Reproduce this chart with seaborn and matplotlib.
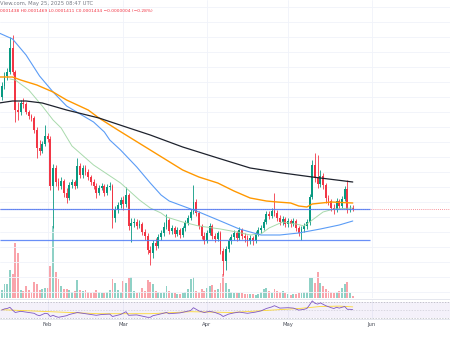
import numpy as np
import pandas as pd
import matplotlib
matplotlib.use("Agg")
import matplotlib.pyplot as plt
import matplotlib.dates as mdates
import seaborn as sns

sns.set_theme(style="white")
plt.rcParams["font.family"] = ["DejaVu Sans"]

# ---------------------------------------------------------------- data
PRICE_UNIT = 1e-7          # prices below are given in units of 0.0000001
first_day = "2025-01-15"   # daily candles from here on

opens = [2554, 2664, 2764, 2804, 3044, 2804, 2424, 2404, 2494, 2484,
         2404, 2364, 2344, 2224, 2044, 2014, 2084, 2164, 2134, 1664,
         1844, 1704, 1664, 1714, 1594, 1544, 1674, 1704, 1664, 1864,
         1774, 1844, 1804, 1754, 1704, 1664, 1594, 1644, 1664, 1594,
         1654, 1664, 1344, 1424, 1474, 1524, 1484, 1574, 1264, 1294,
         1304, 1264, 1284, 1204, 1164, 1024, 994, 1094, 1064, 1154,
         1194, 1254, 1324, 1214, 1244, 1184, 1224, 1174, 1244, 1294,
         1344, 1404, 1504, 1394, 1264, 1164, 1114, 1194, 1264, 1164,
         1134, 1194, 1014, 914, 1034, 1114, 1154, 1194, 1144, 1224,
         1164, 1144, 1114, 1144, 1114, 1184, 1224, 1244, 1304, 1384,
         1364, 1414, 1394, 1344, 1304, 1334, 1284, 1314, 1284, 1314,
         1244, 1194, 1234, 1264, 1304, 1554, 1874, 1744, 1684, 1764,
         1674, 1544, 1514, 1444, 1424, 1514, 1464, 1534, 1634, 1424,
         1438]
highs = [2704, 2804, 2844, 3154, 3174, 2824, 2504, 2524, 2544, 2504,
         2424, 2384, 2364, 2254, 2124, 2114, 2274, 2194, 2164, 1884,
         1874, 1744, 1754, 1734, 1644, 1704, 1734, 1724, 1944, 1894,
         1874, 1874, 1834, 1774, 1734, 1694, 1674, 1694, 1684, 1684,
         1704, 1684, 1464, 1504, 1554, 1564, 1654, 1594, 1344, 1344,
         1334, 1324, 1304, 1234, 1194, 1064, 1124, 1144, 1184, 1224,
         1304, 1384, 1344, 1274, 1264, 1254, 1244, 1264, 1324, 1374,
         1434, 1674, 1534, 1414, 1284, 1204, 1224, 1294, 1284, 1194,
         1214, 1214, 1044, 1064, 1144, 1184, 1224, 1214, 1254, 1244,
         1194, 1174, 1174, 1164, 1214, 1254, 1274, 1334, 1414, 1414,
         1444, 1594, 1424, 1374, 1364, 1354, 1344, 1334, 1344, 1334,
         1264, 1264, 1294, 1334, 1584, 1924, 1994, 1974, 1824, 1794,
         1694, 1574, 1534, 1484, 1544, 1534, 1564, 1664, 1724, 1474,
         1469]
lows = [2524, 2634, 2724, 2784, 2774, 2304, 2324, 2374, 2444, 2384,
        2334, 2314, 2194, 1944, 1974, 1994, 2064, 2104, 1624, 1244,
        1664, 1624, 1634, 1554, 1494, 1524, 1644, 1634, 1644, 1744,
        1744, 1774, 1724, 1674, 1634, 1544, 1574, 1624, 1564, 1574,
        1624, 1244, 1304, 1394, 1444, 1424, 1454, 1224, 1104, 1254,
        1234, 1244, 1174, 1124, 984, 874, 944, 1024, 1044, 1124,
        1164, 1234, 1184, 1184, 1154, 1164, 1144, 1154, 1214, 1274,
        1324, 1384, 1364, 1234, 1134, 1084, 1094, 1174, 1134, 1104,
        1114, 984, 774, 824, 1004, 1084, 1124, 1114, 1124, 1134,
        1104, 1064, 1084, 1074, 1094, 1164, 1194, 1224, 1284, 1334,
        1344, 1364, 1314, 1274, 1274, 1254, 1254, 1254, 1264, 1214,
        1164, 1124, 1204, 1234, 1274, 1534, 1704, 1644, 1654, 1634,
        1494, 1474, 1414, 1384, 1404, 1434, 1444, 1514, 1394, 1404,
        1411]
closes = [2664, 2764, 2804, 3044, 2804, 2424, 2404, 2494, 2484, 2404,
          2364, 2344, 2224, 2044, 2014, 2084, 2164, 2134, 1664, 1844,
          1704, 1664, 1714, 1594, 1544, 1674, 1704, 1664, 1864, 1774,
          1844, 1804, 1754, 1704, 1664, 1594, 1644, 1664, 1594, 1654,
          1664, 1344, 1424, 1474, 1524, 1484, 1574, 1264, 1294, 1304,
          1264, 1284, 1204, 1164, 1024, 994, 1094, 1064, 1154, 1194,
          1254, 1324, 1214, 1244, 1184, 1224, 1174, 1244, 1294, 1344,
          1404, 1504, 1394, 1264, 1164, 1114, 1194, 1264, 1164, 1134,
          1194, 1014, 914, 1034, 1114, 1154, 1194, 1144, 1224, 1164,
          1144, 1114, 1144, 1114, 1184, 1224, 1244, 1304, 1384, 1364,
          1414, 1394, 1344, 1304, 1334, 1284, 1314, 1284, 1314, 1244,
          1194, 1234, 1264, 1304, 1554, 1874, 1744, 1684, 1764, 1674,
          1544, 1514, 1444, 1424, 1514, 1464, 1534, 1634, 1424, 1438,
          1434]
volumes = [80, 140, 140, 280, 240, 550, 450, 80, 70, 120,
           80, 60, 160, 140, 80, 90, 100, 100, 320, 720,
           260, 190, 120, 90, 90, 80, 60, 70, 180, 80,
           70, 80, 60, 50, 60, 80, 60, 50, 50, 60,
           80, 190, 150, 80, 60, 170, 150, 200, 210, 70,
           50, 60, 100, 70, 180, 160, 140, 70, 60, 50,
           60, 120, 70, 50, 50, 40, 40, 50, 60, 90,
           190, 210, 70, 60, 90, 70, 100, 120, 130, 80,
           90, 150, 240, 150, 90, 60, 50, 50, 50, 50,
           40, 40, 40, 40, 30, 40, 60, 90, 100, 70,
           50, 90, 70, 60, 70, 50, 40, 30, 40, 40,
           50, 50, 60, 60, 200, 200, 150, 260, 150, 120,
           90, 70, 60, 50, 60, 70, 100, 140, 160, 50,
           20]

# moving averages (sampled points)
ma_fast_dates = ["2025-01-18", "2025-01-20", "2025-01-25", "2025-01-30", "2025-02-03",
                 "2025-02-06", "2025-02-10", "2025-02-18", "2025-02-28", "2025-03-07",
                 "2025-03-11", "2025-03-15", "2025-03-17", "2025-03-23", "2025-03-29",
                 "2025-04-06", "2025-04-12", "2025-04-17", "2025-04-21", "2025-04-24",
                 "2025-04-29", "2025-05-04", "2025-05-07", "2025-05-10", "2025-05-14",
                 "2025-05-18", "2025-05-25"]
ma_fast = [2734, 2724, 2624, 2464, 2324, 2244, 2064, 1874, 1694, 1524,
           1444, 1394, 1354, 1304, 1264, 1234, 1204, 1174, 1184, 1244,
           1304, 1284, 1264, 1324, 1404, 1434, 1444]

ma_mid_dates = ["2025-01-14", "2025-01-19", "2025-01-24", "2025-01-29", "2025-02-03",
                "2025-02-08", "2025-02-13", "2025-02-18", "2025-02-22", "2025-02-24",
                "2025-02-28", "2025-03-06", "2025-03-11", "2025-03-15", "2025-03-18",
                "2025-03-23", "2025-03-29", "2025-04-06", "2025-04-13", "2025-04-21",
                "2025-04-28", "2025-05-05", "2025-05-13", "2025-05-20", "2025-05-25"]
ma_mid = [3194, 3134, 2974, 2764, 2604, 2464, 2384, 2304, 2204, 2124,
          2024, 1854, 1694, 1574, 1514, 1464, 1404, 1314, 1234, 1174,
          1174, 1194, 1234, 1274, 1314]

ma_long_dates = ["2025-01-14", "2025-01-19", "2025-01-22", "2025-01-28", "2025-02-03",
                 "2025-02-08", "2025-02-16", "2025-02-20", "2025-02-27", "2025-03-05",
                 "2025-03-11", "2025-03-17", "2025-03-23", "2025-03-29", "2025-04-05",
                 "2025-04-11", "2025-04-17", "2025-04-23", "2025-04-27", "2025-05-02",
                 "2025-05-05", "2025-05-08", "2025-05-10", "2025-05-17", "2025-05-25"]
ma_long = [2754, 2754, 2724, 2674, 2604, 2524, 2424, 2344, 2224, 2124,
           2024, 1924, 1824, 1754, 1694, 1614, 1544, 1514, 1504, 1494,
           1464, 1454, 1484, 1504, 1494]

ma_slow_dates = ["2025-01-14", "2025-01-19", "2025-01-24", "2025-01-30", "2025-02-08",
                 "2025-02-20", "2025-03-02", "2025-03-11", "2025-03-23", "2025-04-05",
                 "2025-04-17", "2025-04-29", "2025-05-10", "2025-05-25"]
ma_slow = [2494, 2514, 2514, 2494, 2424, 2344, 2254, 2174, 2054, 1944,
           1844, 1794, 1754, 1704]

# horizontal levels drawn on the chart
levels = [1434, 1124]
levels_end = "2025-05-31 12:00"

# RSI pane (day number counted from first_day)
rsi_day = [0, 1, 2, 3, 4, 5, 7, 9, 12, 13, 14, 16, 17, 18, 19, 20, 21, 24, 25, 28,
           31, 35, 37, 40, 41, 44, 46, 47, 50, 54, 55, 56, 58, 61, 62, 66, 70, 71, 73, 75,
           77, 79, 81, 82, 84, 86, 88, 91, 94, 96, 98, 100, 101, 103, 106, 108, 110, 112,
           113, 114, 115, 116, 117, 118, 120, 122, 123, 124, 125, 127, 128, 129, 130]
rsi_val = [49, 52, 53, 56, 49, 43, 46, 44, 41, 37, 35, 41, 40, 33, 36, 33, 31, 35, 38, 43,
           40, 36, 38, 39, 33, 38, 45, 36, 37, 31, 31, 35, 38, 43, 40, 42, 48, 55, 47, 43,
           46, 43, 38, 33, 39, 42, 44, 41, 44, 47, 53, 57, 60, 54, 55, 54, 49, 51,
           53, 62, 72, 66, 64, 67, 60, 55, 53, 56, 54, 58, 51, 51, 50]
rsi_ma_day = [0, 18, 36, 55, 70, 85, 100, 110, 118, 125, 130]
rsi_ma_val = [50, 45, 40, 40, 45, 43, 49, 53, 58, 59, 57]

month_starts = ["2025-02-01", "2025-03-01", "2025-04-01", "2025-05-01", "2025-06-01"]
month_labels = ["Feb", "Mar", "Apr", "May", "Jun"]

header_time = "View.com, May 25, 2025 08:47 UTC"
header_ohlc = "0001438 H0.0001469 L0.0001411 C0.0001434 \u22120.0000004 (\u22120.28%)"

# ---------------------------------------------------------------- style
UP = "#089981"
DOWN = "#f23645"
BG_GRID = "#f0f3fa"

fig = plt.figure(figsize=(4.5, 3.38), dpi=100)
fig.patch.set_facecolor("white")

W_PX, H_PX = 450, 338
main_bottom, rsi_bottom, rsi_top = 298, 319, 299
ax = fig.add_axes([0, 1 - main_bottom / H_PX, 1, main_bottom / H_PX])
axv = ax.twinx()
axr = fig.add_axes([0, 1 - rsi_bottom / H_PX, 1, (rsi_bottom - rsi_top) / H_PX], sharex=ax)

def to_num(seq):
    return mdates.date2num(pd.to_datetime(seq).to_pydatetime())

start = pd.Timestamp(first_day)
days = pd.date_range(start, periods=len(closes), freq="D")
xd = mdates.date2num(days.to_pydatetime())

o = np.array(opens) * PRICE_UNIT
h = np.array(highs) * PRICE_UNIT
l = np.array(lows) * PRICE_UNIT
c = np.array(closes) * PRICE_UNIT
up = c >= o
cols = np.where(up, UP, DOWN)

# volume, on its own scale at the foot of the price pane
vol_cols = [(8/255, 153/255, 129/255, 0.45) if u else (242/255, 54/255, 69/255, 0.45) for u in up]
axv.bar(xd, volumes, width=0.7, color=vol_cols, linewidth=0)
axv.set_ylim(0, 2980)
axv.axis("off")
ax.set_zorder(axv.get_zorder() + 1)
ax.patch.set_visible(False)

# candles
ax.vlines(xd, l, h, colors=cols, linewidth=0.6, zorder=3)
body_low = np.minimum(o, c)
body_h = np.maximum(np.abs(c - o), 8 * PRICE_UNIT)
ax.bar(xd, body_h, bottom=body_low, width=0.7, color=cols, linewidth=0, zorder=4)

# moving averages
for dts, vals, color, lw, alpha in [
    (ma_fast_dates, ma_fast, "#9fd6a3", 0.7, 0.9),
    (ma_mid_dates, ma_mid, "#5b9cf6", 0.8, 1.0),
    (ma_long_dates, ma_long, "#ff9800", 1.0, 1.0),
    (ma_slow_dates, ma_slow, "#1e222d", 0.9, 1.0),
]:
    sns.lineplot(x=to_num(dts), y=np.array(vals) * PRICE_UNIT, ax=ax, color=color,
                 linewidth=lw, alpha=alpha, estimator=None, sort=False, legend=False, zorder=5)

# last price line and horizontal levels
ax.axhline(closes[-1] * PRICE_UNIT, color=DOWN, linewidth=0.6, linestyle=(0, (1, 1.5)),
           alpha=0.7, zorder=2)
x_left = mdates.date2num(start.to_pydatetime()) - 0.652
x_right = x_left + W_PX / 2.7
ax.hlines(np.array(levels) * PRICE_UNIT, x_left, to_num([levels_end])[0],
          colors="#4f7cf6", linewidth=0.9, alpha=0.85, zorder=6)

ax.set_xlim(x_left, x_right)
ax.set_ylim(544 * PRICE_UNIT, 3524 * PRICE_UNIT)
ax.set_yticks(np.arange(600, 3600, 150) * PRICE_UNIT)
ax.set_xticks(to_num(month_starts))
ax.grid(True, color=BG_GRID, linewidth=0.6)
ax.tick_params(length=0, labelleft=False, labelbottom=False)
ax.set_xlabel("")
ax.set_ylabel("")
for s in ax.spines.values():
    s.set_visible(False)

# RSI pane
axr.axhspan(30, 70, color="#7e57c2", alpha=0.08, linewidth=0)
for lev, a in [(70, 0.55), (50, 0.3), (30, 0.55)]:
    axr.axhline(lev, color="#787b86", linewidth=0.5, linestyle=(0, (2, 2)), alpha=a)
rsi_x = to_num(start + pd.to_timedelta(rsi_day, unit="D"))
rsi_ma_x = to_num(start + pd.to_timedelta(rsi_ma_day, unit="D"))
sns.lineplot(x=rsi_ma_x, y=rsi_ma_val, ax=axr, color="#fdd835", linewidth=0.6,
             estimator=None, sort=False, legend=False)
sns.lineplot(x=rsi_x, y=rsi_val, ax=axr, color="#7e57c2", linewidth=0.6,
             estimator=None, sort=False, legend=False)
axr.set_ylim(26.75, 76.75)
axr.set_yticks([])
axr.set_xticks(to_num(month_starts))
axr.set_xticklabels(month_labels)
axr.grid(True, axis="x", color=BG_GRID, linewidth=0.6)
axr.tick_params(axis="x", length=0, pad=2.0, labelsize=3.8, labelcolor="#4a4e59")
axr.set_xlabel("")
axr.set_ylabel("")
axr.set_facecolor("white")
for side in ["left", "right"]:
    axr.spines[side].set_visible(False)
for side in ["top", "bottom"]:
    axr.spines[side].set_color("#e0e3eb")
    axr.spines[side].set_linewidth(0.6)
axr.set_xlim(x_left, x_right)

# header
fig.text(0.001, 1 - 3.5 / H_PX, header_time, fontsize=3.8, color="#787b86", va="center", ha="left")
fig.text(0.001, 1 - 11.5 / H_PX, header_ohlc, fontsize=3.2, color=DOWN, va="center", ha="left")

fig.savefig("out.png", dpi=100, facecolor="white")
